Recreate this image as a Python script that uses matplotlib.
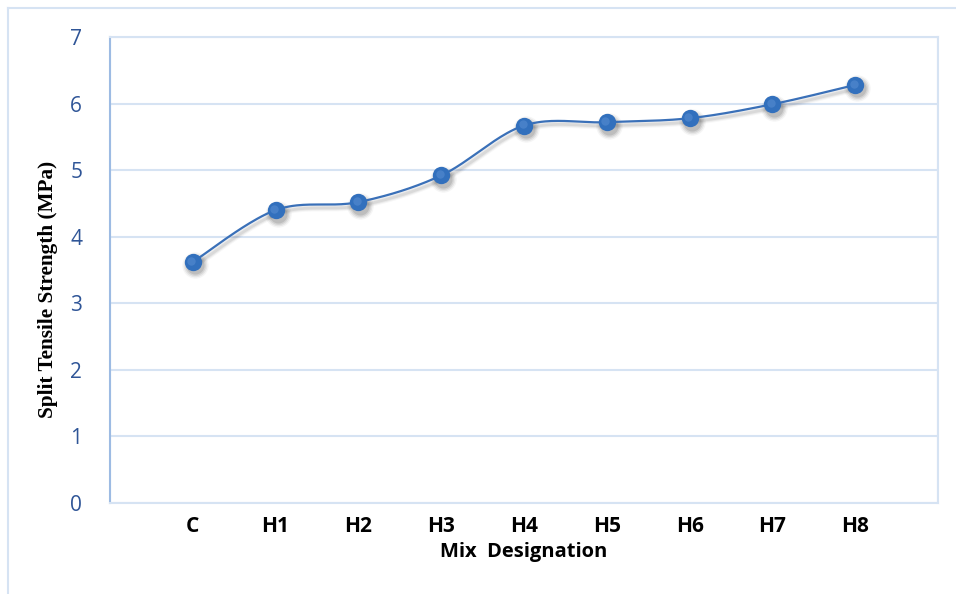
import numpy as np
import matplotlib
matplotlib.use("Agg")
import matplotlib.pyplot as plt
from matplotlib.lines import Line2D
from matplotlib.transforms import offset_copy

# Split tensile strength for each mix
mixes = ["C", "H1", "H2", "H3", "H4", "H5", "H6", "H7", "H8"]
strength = [3.62, 4.40, 4.52, 4.92, 5.67, 5.72, 5.78, 5.99, 6.28]
y_ticks = [0, 1, 2, 3, 4, 5, 6, 7]

line_blue = "#3a70b8"
grid_blue = "#d6e3f3"
tick_blue = "#2f5597"


def smooth_curve(x, y, n=40):
    # Catmull-Rom style smoothing through the points (like a spreadsheet "smoothed line")
    x = np.asarray(x, float)
    y = np.asarray(y, float)
    px = np.concatenate([[x[0]], x, [x[-1]]])
    py = np.concatenate([[y[0]], y, [y[-1]]])
    xs, ys = [], []
    t = np.linspace(0, 1, n)
    for i in range(1, len(px) - 2):
        p0 = np.array([px[i], py[i]])
        p3 = np.array([px[i + 1], py[i + 1]])
        p1 = p0 + (np.array([px[i + 1], py[i + 1]]) - np.array([px[i - 1], py[i - 1]])) / 6
        p2 = p3 - (np.array([px[i + 2], py[i + 2]]) - np.array([px[i], py[i]])) / 6
        b = ((1 - t) ** 3)[:, None] * p0 + (3 * (1 - t) ** 2 * t)[:, None] * p1 \
            + (3 * (1 - t) * t ** 2)[:, None] * p2 + (t ** 3)[:, None] * p3
        xs.extend(b[:, 0])
        ys.extend(b[:, 1])
    return np.array(xs), np.array(ys)


fig = plt.figure(figsize=(9.56, 5.94), dpi=100)
ax = fig.add_axes([110 / 956, 1 - 503 / 594, 828 / 956, 466 / 594])

xpos = np.arange(1, len(mixes) + 1)
sx, sy = smooth_curve(xpos, strength)

# soft drop shadow, offset down and to the right
shadow = offset_copy(ax.transData, fig=fig, x=1.5, y=-2.5, units="points")
for size, a in [(19, 0.04), (17, 0.06), (15, 0.08), (13, 0.10)]:
    ax.plot(xpos, strength, "o", color="#000000", alpha=a, markersize=size,
            markeredgewidth=0, zorder=3, transform=shadow)
for lw, a in [(5, 0.03), (3.5, 0.05), (2, 0.07)]:
    ax.plot(sx, sy, color="#000000", alpha=a, lw=lw, zorder=2, transform=shadow)

ax.plot(sx, sy, color=line_blue, lw=1.6, zorder=4)
ax.plot(xpos, strength, "o", color="#3270bd", markersize=12.5, markeredgewidth=0, zorder=5)
# lighter core so the markers look rounded
hi = offset_copy(ax.transData, fig=fig, x=-1, y=1, units="points")
ax.plot(xpos, strength, "o", color="#5a8fd2", markersize=6, markeredgewidth=0,
        alpha=0.55, zorder=6, transform=hi)

ax.set_xlim(0, len(mixes) + 1)
ax.set_ylim(0, 7)
ax.set_yticks(y_ticks)
ax.set_xticks(xpos)
ax.set_xticklabels(mixes)
ax.set_xticks(np.arange(0, len(mixes) + 2), minor=True)

ax.grid(True, which="minor", axis="x", color=grid_blue, lw=1.5)
ax.grid(True, which="major", axis="y", color=grid_blue, lw=1.5)
ax.set_axisbelow(True)
ax.tick_params(which="both", length=0)
ax.tick_params(axis="y", pad=20, labelsize=15, labelcolor=tick_blue)
ax.tick_params(axis="x", pad=9, labelsize=15)
for lab in ax.get_yticklabels():
    lab.set_fontfamily("Open Sans")
for lab in ax.get_xticklabels():
    lab.set_fontfamily("Open Sans")
    lab.set_fontweight("bold")

for side in ["top", "right", "bottom"]:
    ax.spines[side].set_color(grid_blue)
    ax.spines[side].set_linewidth(1.5)
ax.spines["left"].set_color("#9dbbe3")
ax.spines["left"].set_linewidth(1.5)

ax.set_xlabel("Mix  Designation", fontfamily="Open Sans", fontweight="bold",
              fontsize=14.5, labelpad=4)
fig.text(48 / 956, 1 - 289 / 594, "Split Tensile Strength (MPa)", rotation=90,
         ha="center", va="center", fontfamily="Liberation Serif", fontweight="bold",
         fontsize=15.3)

# chart frame
fig.add_artist(Line2D([8 / 956, 1], [1 - 8 / 594, 1 - 8 / 594], color=grid_blue, lw=1.5))
fig.add_artist(Line2D([8 / 956, 8 / 956], [0, 1 - 8 / 594], color=grid_blue, lw=1.5))

fig.savefig("out.png", dpi=100)
